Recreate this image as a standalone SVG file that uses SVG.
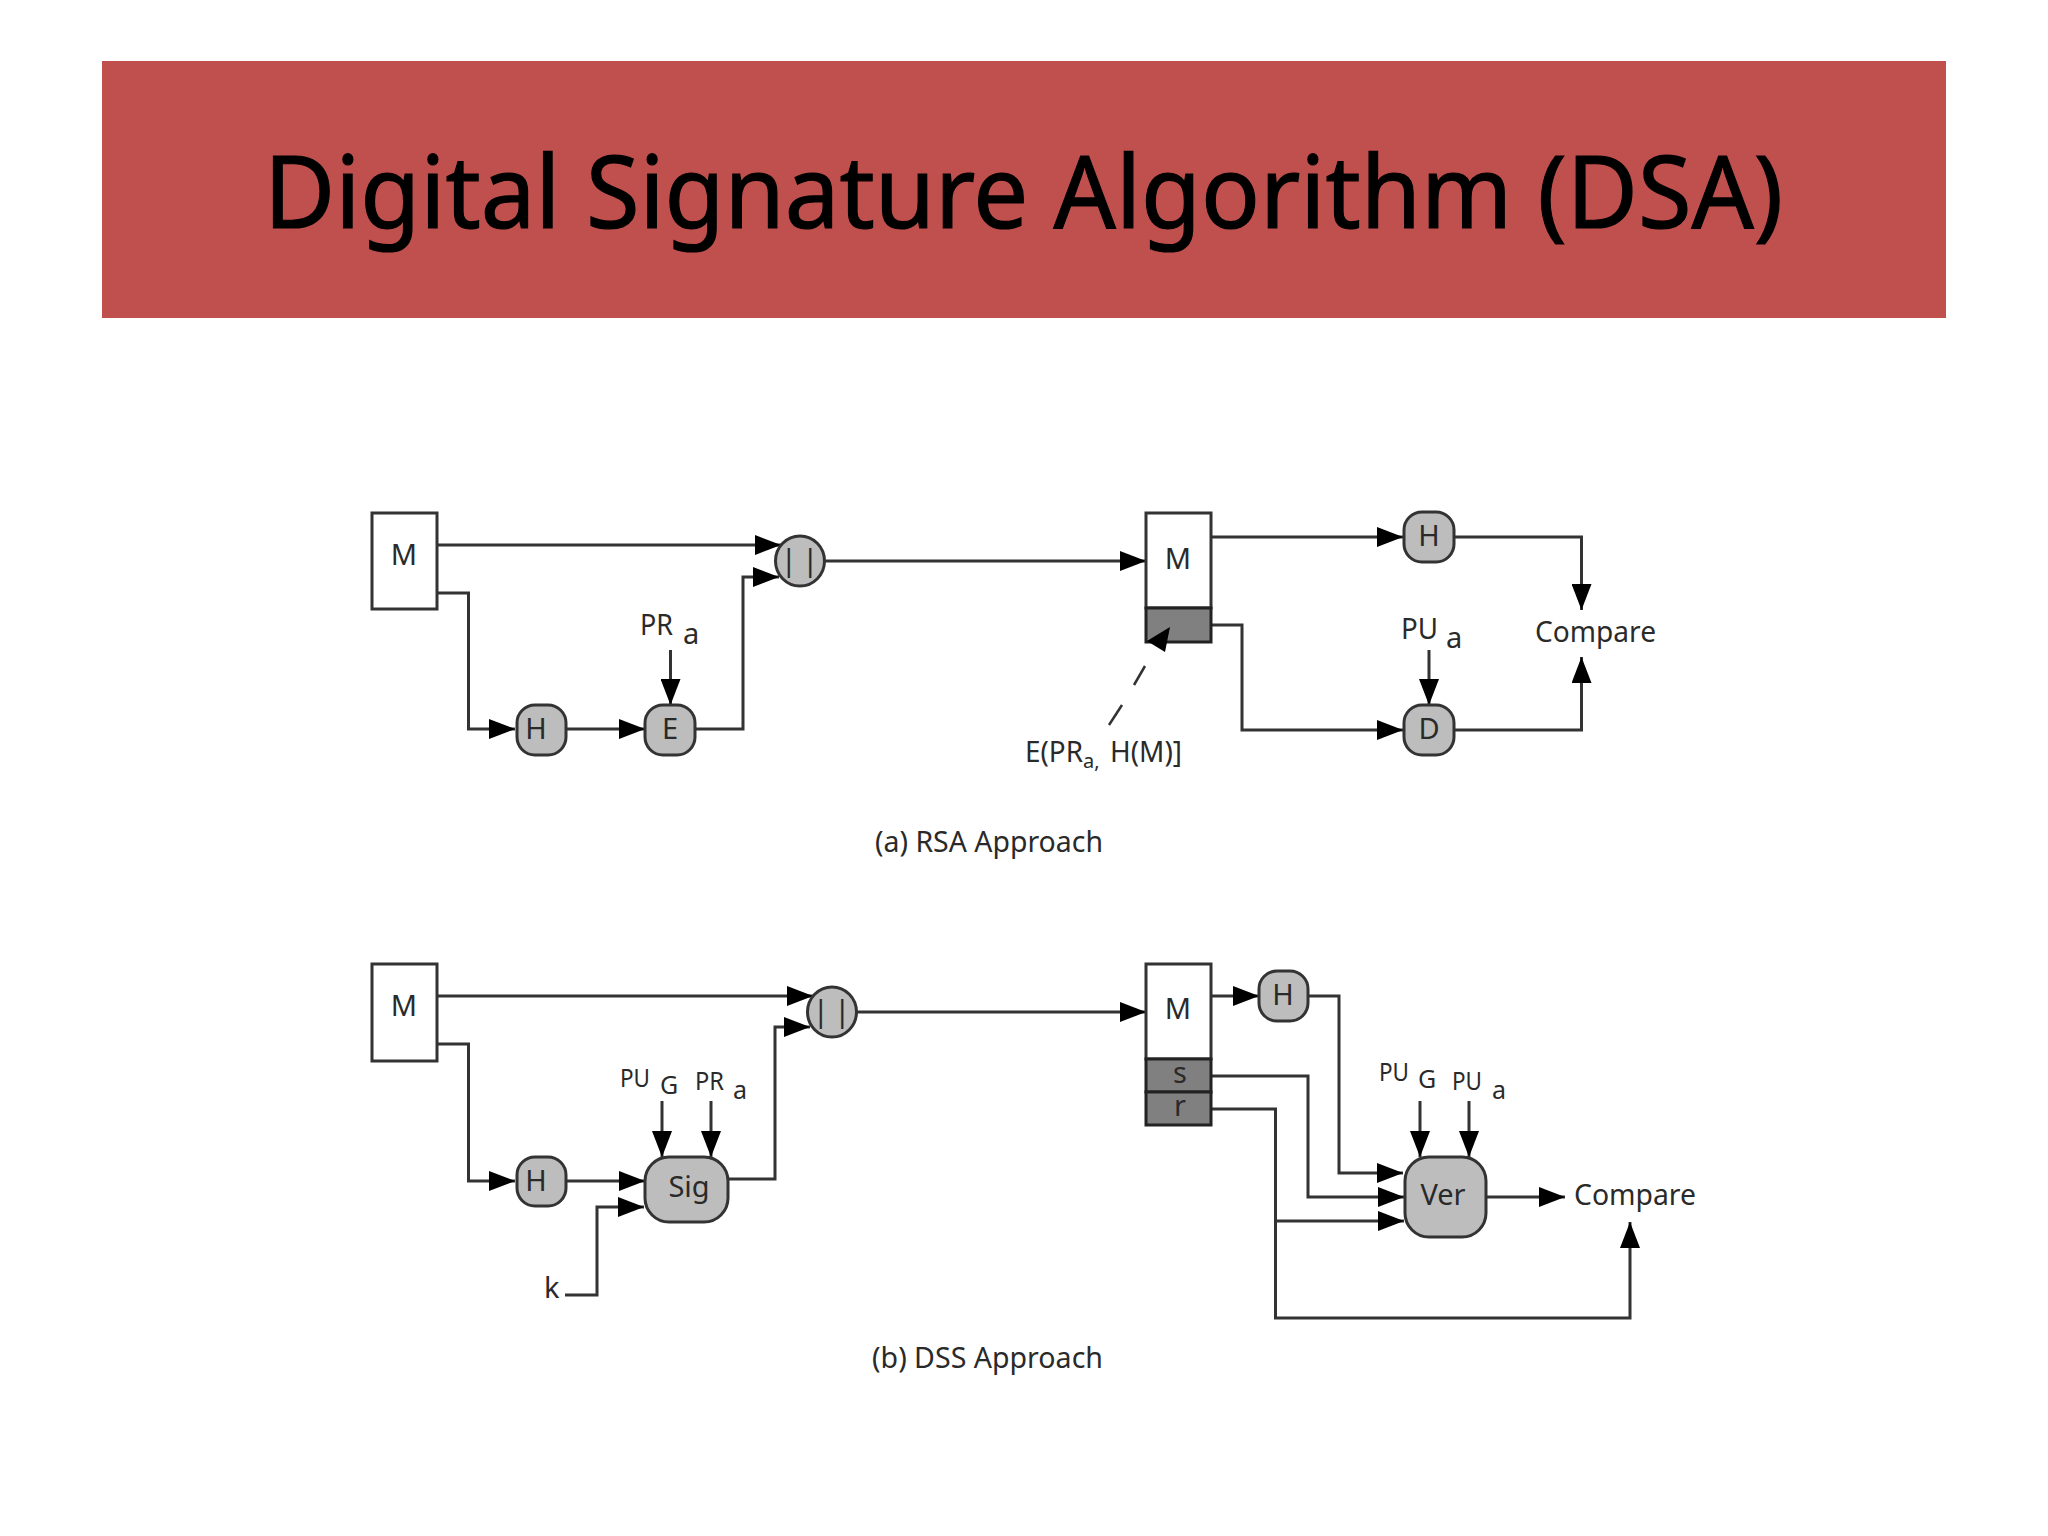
<svg xmlns="http://www.w3.org/2000/svg" width="2048" height="1536" viewBox="0 0 2048 1536">
<style>
text{font-family:"Noto Sans","Open Sans","Liberation Sans",sans-serif;fill:#2a2a2a}
.t{font-size:29px;text-anchor:middle}
.c{font-size:29px}
.s{font-size:25px}
.bars{font-size:30px;text-anchor:middle;letter-spacing:5px}
.box{fill:#fff;stroke:#333;stroke-width:3}
.dark{fill:#808080;stroke:#222;stroke-width:3}
.op{fill:#bdbdbd;stroke:#333;stroke-width:3}
.l{fill:none;stroke:#333;stroke-width:3}
.d{fill:none;stroke:#333;stroke-width:2.5}
</style>
<defs>
<marker id="a" markerUnits="userSpaceOnUse" markerWidth="26" markerHeight="20" refX="26" refY="10" orient="auto"><path d="M0 0L26 10L0 20Z" fill="#000"/></marker>
</defs>
<rect id="banner" x="102" y="61" width="1844" height="257" fill="#BF504D"/>
<text id="title" x="264" y="228" font-size="101" style="fill:#000;stroke:#000;stroke-width:1.200" textLength="1519" lengthAdjust="spacingAndGlyphs">Digital Signature Algorithm (DSA)</text>
<g id="connectors">
<path class="l" marker-end="url(#a)" d="M437 545H781"/>
<path class="l" marker-end="url(#a)" d="M437 593H468.500V729H515"/>
<path class="l" marker-end="url(#a)" d="M566 729H645"/>
<path class="l" marker-end="url(#a)" d="M695 729H743V577H779"/>
<path class="l" marker-end="url(#a)" d="M670.500 650V705"/>
<path class="l" marker-end="url(#a)" d="M824 561H1146"/>
<path class="l" marker-end="url(#a)" d="M1211 537H1403"/>
<path class="l" marker-end="url(#a)" d="M1454 537H1581.500V610"/>
<path class="l" marker-end="url(#a)" d="M1454 730H1581.500V657"/>
<path class="l" marker-end="url(#a)" d="M1429 650V705"/>
<path class="l" marker-end="url(#a)" d="M1211 625H1242V730H1403"/>
<path class="l" marker-end="url(#a)" d="M437 996H813"/>
<path class="l" marker-end="url(#a)" d="M437 1044H468.500V1181H515"/>
<path class="l" marker-end="url(#a)" d="M566 1181H645"/>
<path class="l" marker-end="url(#a)" d="M565 1295H597V1207H644"/>
<path class="l" marker-end="url(#a)" d="M728 1179H775V1027H810"/>
<path class="l" marker-end="url(#a)" d="M662 1101V1157"/>
<path class="l" marker-end="url(#a)" d="M711 1101V1157"/>
<path class="l" marker-end="url(#a)" d="M856 1012H1146"/>
<path class="l" marker-end="url(#a)" d="M1211 996H1259"/>
<path class="l" marker-end="url(#a)" d="M1308 996H1339V1173H1403"/>
<path class="l" marker-end="url(#a)" d="M1211 1076H1308V1197H1404"/>
<path class="l" marker-end="url(#a)" d="M1211 1109H1275.500V1318H1630V1222"/>
<path class="l" marker-end="url(#a)" d="M1275.500 1221H1404"/>
<path class="l" marker-end="url(#a)" d="M1486 1197H1565"/>
<path class="l" marker-end="url(#a)" d="M1420 1101V1157"/>
<path class="l" marker-end="url(#a)" d="M1469 1101V1157"/>
</g>
<g id="rsa-m1"><rect class="box" x="372" y="513" width="65" height="96"/><text class="t" x="404" y="565">M</text></g>
<g id="rsa-h1"><rect class="op" x="517" y="705" width="49" height="50" rx="18"/><text class="t" x="536" y="739">H</text></g>
<g id="rsa-e"><rect class="op" x="645" y="705" width="50" height="50" rx="18"/><text class="t" x="670" y="739">E</text></g>
<g id="rsa-cat"><ellipse class="op" cx="800" cy="561" rx="24.500" ry="25"/><text class="bars" x="802" y="571">||</text></g>
<g id="rsa-m2"><rect class="box" x="1146" y="513" width="65" height="95"/><text class="t" x="1178" y="569">M</text></g>
<g id="rsa-sig"><rect class="dark" x="1146" y="608" width="65" height="34"/></g>
<g id="rsa-h2"><rect class="op" x="1404" y="512" width="50" height="50" rx="18"/><text class="t" x="1429" y="546">H</text></g>
<g id="rsa-d"><rect class="op" x="1404" y="705" width="50" height="50" rx="18"/><text class="t" x="1429" y="739">D</text></g>
<g id="rsa-note">
<path class="d" d="M1145 666L1134 685M1122 705L1109 725"/>
<path d="M1147 641L1170 627L1165 652Z" fill="#000"/>
<text x="1025" y="762" font-size="29" textLength="58" lengthAdjust="spacingAndGlyphs">E(PR</text>
<text x="1083" y="768" font-size="20">a,</text>
<text x="1110" y="762" font-size="29" textLength="72" lengthAdjust="spacingAndGlyphs">H(M)]</text>
</g>
<g id="rsa-labels">
<text class="c" x="640" y="635" textLength="33" lengthAdjust="spacingAndGlyphs">PR</text><text class="c" x="683" y="644">a</text>
<text class="c" x="1401" y="639" textLength="37" lengthAdjust="spacingAndGlyphs">PU</text><text class="c" x="1446" y="648">a</text>
<text class="c" x="1535" y="642" textLength="121" lengthAdjust="spacingAndGlyphs">Compare</text>
<text class="c" x="875" y="852" textLength="228" lengthAdjust="spacingAndGlyphs">(a) RSA Approach</text>
</g>
<g id="dss-m1"><rect class="box" x="372" y="964" width="65" height="97"/><text class="t" x="404" y="1016">M</text></g>
<g id="dss-h1"><rect class="op" x="517" y="1157" width="49" height="49" rx="18"/><text class="t" x="536" y="1191">H</text></g>
<g id="dss-sig"><rect class="op" x="645" y="1157" width="83" height="65" rx="24"/><text class="t" x="689" y="1197">Sig</text></g>
<g id="dss-cat"><ellipse class="op" cx="832" cy="1012" rx="24.500" ry="25"/><text class="bars" x="834" y="1022">||</text></g>
<g id="dss-m2"><rect class="box" x="1146" y="964" width="65" height="95"/><text class="t" x="1178" y="1019">M</text></g>
<g id="dss-s"><rect class="dark" x="1146" y="1059" width="65" height="33"/><text class="t" x="1180" y="1083">s</text></g>
<g id="dss-r"><rect class="dark" x="1146" y="1092" width="65" height="33"/><text class="t" x="1180" y="1116">r</text></g>
<g id="dss-h2"><rect class="op" x="1259" y="971" width="49" height="50" rx="18"/><text class="t" x="1283" y="1005">H</text></g>
<g id="dss-ver"><rect class="op" x="1405" y="1157" width="81" height="80" rx="24"/><text class="t" x="1443" y="1205">Ver</text></g>
<g id="dss-labels">
<text class="s" x="620" y="1087" textLength="30" lengthAdjust="spacingAndGlyphs">PU</text><text class="s" x="660" y="1094">G</text>
<text class="s" x="695" y="1090" textLength="29" lengthAdjust="spacingAndGlyphs">PR</text><text class="s" x="733" y="1099">a</text>
<text class="c" x="544" y="1298">k</text>
<text class="s" x="1379" y="1081" textLength="30" lengthAdjust="spacingAndGlyphs">PU</text><text class="s" x="1418" y="1088">G</text>
<text class="s" x="1452" y="1090" textLength="30" lengthAdjust="spacingAndGlyphs">PU</text><text class="s" x="1492" y="1099">a</text>
<text class="c" x="1574" y="1205" textLength="122" lengthAdjust="spacingAndGlyphs">Compare</text>
<text class="c" x="872" y="1368" textLength="231" lengthAdjust="spacingAndGlyphs">(b) DSS Approach</text>
</g>
</svg>
